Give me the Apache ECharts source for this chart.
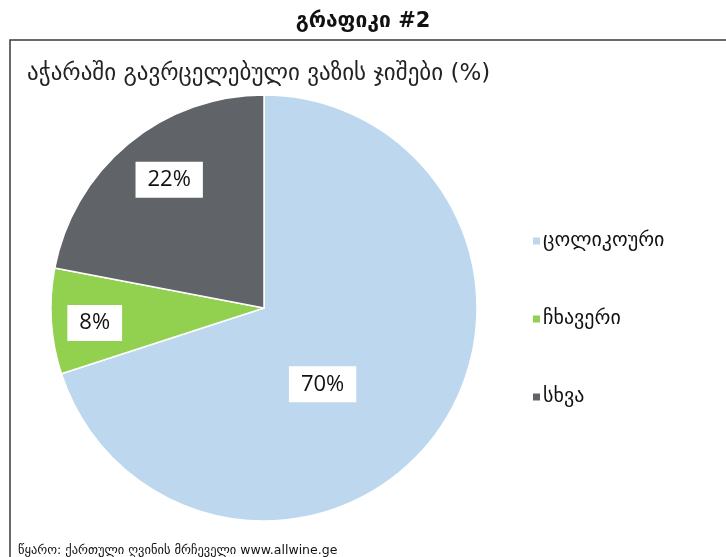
<!DOCTYPE html>
<html>
<head>
<meta charset="utf-8">
<script src="https://cdn.jsdelivr.net/npm/echarts@6/dist/echarts.min.js"></script>
<style>
  html, body { margin: 0; padding: 0; background: #fff; }
  #chart { width: 726px; height: 557px; }
</style>
</head>
<body>
<div id="chart"></div>
<script>
// ჯიშები და წილები (%)
const varieties = ["ცოლიკოური", "ჩხავერი", "სხვა"]
const shares = [70, 8, 22]
const sliceColors = ["#BDD7EE", "#92D050", "#606469"]

// ლეიბლების წანაცვლება (Excel-ის განლაგების მსგავსად)
const labelShift = [[-30, 12], [-60, 8], [-25, -44]]

const chart = echarts.init(document.getElementById("chart"))

chart.setOption({
  animation: false,
  title: [
    {
      text: "გრაფიკი #2",
      left: "center",
      top: 6,
      textStyle: { fontFamily: "DejaVu Sans", fontSize: 21, fontWeight: "bold", color: "#111" }
    },
    {
      text: "აჭარაში გავრცელებული ვაზის ჯიშები (%)",
      left: 22,
      top: 58,
      textStyle: { fontFamily: "DejaVu Sans", fontSize: 23, fontWeight: "normal", color: "#222" }
    },
    {
      text: "წყარო: ქართული ღვინის მრჩეველი www.allwine.ge",
      left: 13,
      top: 539,
      textStyle: { fontFamily: "DejaVu Sans", fontSize: 12.5, fontWeight: "normal", color: "#111" }
    }
  ],
  graphic: [
    {
      type: "rect",
      shape: { x: 10, y: 40, width: 800, height: 600 },
      style: { fill: "none", stroke: "#3a3a3a", lineWidth: 1.5 },
      silent: true
    }
  ],
  legend: {
    orient: "vertical",
    left: 526,
    top: 226,
    itemGap: 58,
    itemWidth: 9,
    itemHeight: 9,
    icon: "rect",
    data: varieties,
    textStyle: { fontFamily: "DejaVu Sans", fontSize: 20, color: "#111", padding: [0, 0, 0, -3] }
  },
  series: [
    {
      type: "pie",
      center: [264, 308],
      radius: 213,
      startAngle: 90,
      clockwise: true,
      itemStyle: { borderColor: "#fff", borderWidth: 1.5 },
      label: {
        show: true,
        position: "inside",
        formatter: "{c}%",
        backgroundColor: "#fff",
        padding: [8, 12, 6, 12],
        color: "#111",
        fontFamily: "Open Sans",
        fontSize: 22
      },
      labelLayout: function (params) {
        const s = labelShift[params.dataIndex]
        return { dx: s[0], dy: s[1] }
      },
      labelLine: { show: false },
      data: varieties.map((name, i) => ({
        name: name,
        value: shares[i],
        itemStyle: { color: sliceColors[i] }
      }))
    }
  ]
})
</script>
</body>
</html>
